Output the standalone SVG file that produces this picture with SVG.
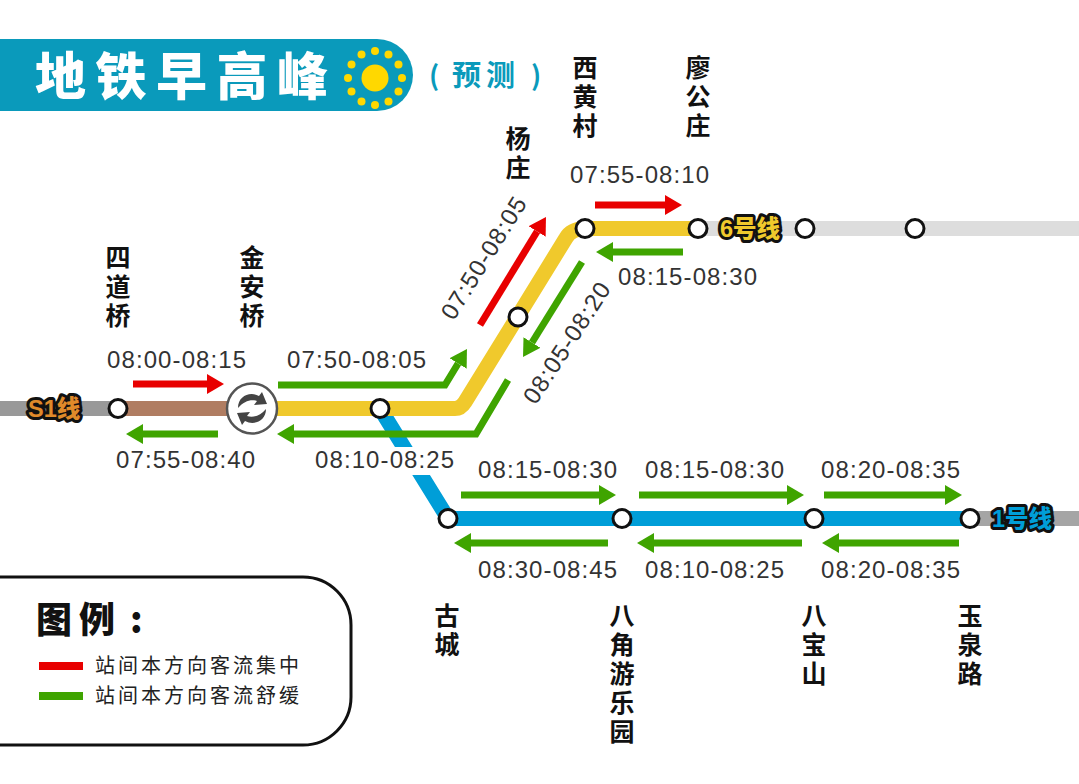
<svg xmlns="http://www.w3.org/2000/svg" width="1079" height="784" viewBox="0 0 1079 784">
<style>
.cjk{font-family:"Noto Sans CJK SC","Liberation Sans",sans-serif}
.st{font-family:"Noto Sans CJK SC","Liberation Sans",sans-serif;font-size:25px;font-weight:700;fill:#111;text-anchor:middle}
.t{font-family:"Liberation Sans",Arial,sans-serif;font-size:24px;fill:#333;letter-spacing:1.1px}
.ln{font-family:"Liberation Sans","Noto Sans CJK SC",sans-serif;font-size:23.500px;font-weight:900;stroke:#111;stroke-width:6px;stroke-linejoin:round;paint-order:stroke}
.rail{fill:none;stroke-width:15;stroke-linejoin:round}
.r{fill:none;stroke:#e80000;stroke-width:7}
.g{fill:none;stroke:#3fa400;stroke-width:7}
.ra{marker-end:url(#ah-r)}
.ga{marker-end:url(#ah-g)}
.s{fill:#fff;stroke:#111;stroke-width:3}
.leg{font-family:"Noto Sans CJK SC",sans-serif;font-size:20px;fill:#222;letter-spacing:3px}
.dot{fill:#ffd800}
</style>
<defs>
<marker id="ah-r" markerUnits="userSpaceOnUse" markerWidth="17" markerHeight="20" refX="0" refY="10" orient="auto"><path d="M0 0L17 10L0 20z" fill="#e80000"/></marker>
<marker id="ah-g" markerUnits="userSpaceOnUse" markerWidth="17" markerHeight="20" refX="0" refY="10" orient="auto"><path d="M0 0L17 10L0 20z" fill="#3fa400"/></marker>
</defs>
<rect width="1079" height="784" fill="#fff"/>
<g id="header">
<path d="M0 39H377A36 36 0 0 1 377 111H0z" fill="#0a9abb"/>
<text class="cjk" x="35" y="95" font-size="51" font-weight="900" fill="#fff" letter-spacing="9.5">地铁早高峰</text>
<circle class="dot" cx="375" cy="78" r="13.5"/>
<g id="sun-rays">
<circle class="dot" cx="402" cy="78" r="4"/><circle class="dot" cx="398.500" cy="91.500" r="4"/><circle class="dot" cx="388.500" cy="101.500" r="4"/><circle class="dot" cx="375" cy="105" r="4"/><circle class="dot" cx="361.500" cy="101.500" r="4"/><circle class="dot" cx="351.500" cy="91.500" r="4"/><circle class="dot" cx="348" cy="78" r="4"/><circle class="dot" cx="351.500" cy="64.500" r="4"/><circle class="dot" cx="361.500" cy="54.500" r="4"/><circle class="dot" cx="375" cy="51" r="4"/><circle class="dot" cx="388.500" cy="54.500" r="4"/><circle class="dot" cx="398.500" cy="64.500" r="4"/>
</g>
<text class="cjk" x="429" y="86" font-size="27" font-weight="700" fill="#0a9abb">(</text>
<text class="cjk" x="452" y="86" font-size="29" font-weight="700" fill="#0a9abb" letter-spacing="5">预测</text>
<text class="cjk" x="531" y="86" font-size="27" font-weight="700" fill="#0a9abb">)</text>
</g>
<g id="connectors">
<path class="rail" stroke="#999" d="M0 408.500H118"/>
<path class="rail" stroke="#b07d62" d="M118 408.500H245"/>
<path class="rail" stroke="#ddd" d="M698 228.500H1079"/>
<path class="rail" stroke="#a5a5a5" d="M970 518.500H1079"/>
<path class="rail" stroke="#009ed8" d="M380 408.500L448 518.500H970"/>
<path class="rail" stroke="#f0c92c" d="M245 408.500H455Q461 408.500 465 402L566 238Q571 229 585 228.500H698"/>
<path class="r ra" d="M133 384H207"/>
<path class="g ga" d="M218 434H143"/>
<path class="g ga" d="M278 385H445L458.100 363.500"/>
<path class="g ga" d="M508 380L476 434H294"/>
<path class="r ra" d="M480 325L537.100 231.500"/>
<path class="g ga" d="M582 262L532 342.500"/>
<path class="r ra" d="M595 205H665"/>
<path class="g ga" d="M683 252H613"/>
<path class="g ga" d="M461 495H599"/>
<path class="g ga" d="M639 495H787"/>
<path class="g ga" d="M824 495H945"/>
<path class="g ga" d="M608 543H471"/>
<path class="g ga" d="M802 543H654"/>
<path class="g ga" d="M959 543H839"/>
</g>
<rect x="314" y="447" width="141" height="28" fill="#fff"/>
<g id="line-labels">
<text class="ln" x="28" y="417" fill="#e08a2a">S1线</text>
<text class="ln" x="720" y="237" fill="#f0c92c">6号线</text>
<text class="ln" x="992" y="527" fill="#009ed8">1号线</text>
</g>
<g id="times">
<text class="t" x="107" y="368">08:00-08:15</text>
<text class="t" x="287" y="368">07:50-08:05</text>
<text class="t" x="116" y="468">07:55-08:40</text>
<text class="t" x="315" y="468">08:10-08:25</text>
<text class="t" x="570" y="183">07:55-08:10</text>
<text class="t" x="618" y="285">08:15-08:30</text>
<text class="t" x="478" y="478">08:15-08:30</text>
<text class="t" x="645" y="478">08:15-08:30</text>
<text class="t" x="821" y="478">08:20-08:35</text>
<text class="t" x="478" y="578">08:30-08:45</text>
<text class="t" x="645" y="578">08:10-08:25</text>
<text class="t" x="821" y="578">08:20-08:35</text>
<text class="t" text-anchor="middle" transform="translate(491 262) rotate(-58)">07:50-08:05</text>
<text class="t" text-anchor="middle" transform="translate(574 347) rotate(-57)">08:05-08:20</text>
</g>
<g id="st-sidaoqiao"><circle class="s" cx="118" cy="408.500" r="9"/><text class="st" x="118 118 118" y="267 296 325">四道桥</text></g>
<g id="st-jinanqiao">
<circle cx="252" cy="408.500" r="25" fill="#fff" stroke="#555" stroke-width="2.500"/>
<path id="swap-top" d="M238 408C238 396 250 391 259 396L262 392L267 404L254 405L257 401C251 399 244 401 238 408z" fill="#444"/>
<path d="M266 409C266 421 254 426 245 421L242 425L237 413L250 412L247 416C253 418 260 416 266 409z" fill="#444"/>
<text class="st" x="252 252 252" y="267 296 325">金安桥</text></g>
<g id="st-junction"><circle class="s" cx="380" cy="408.500" r="9"/></g>
<g id="st-yangzhuang"><circle class="s" cx="518" cy="317" r="9"/><text class="st" x="518 518" y="148 177">杨庄</text></g>
<g id="st-xihuangcun"><circle class="s" cx="585" cy="228.500" r="9"/><text class="st" x="585 585 585" y="77 106 135">西黄村</text></g>
<g id="st-liaogongzhuang"><circle class="s" cx="698" cy="228.500" r="9"/><text class="st" x="698 698 698" y="77 106 135">廖公庄</text></g>
<g id="st-6a"><circle class="s" cx="805" cy="228.500" r="9"/></g>
<g id="st-6b"><circle class="s" cx="915" cy="228.500" r="9"/></g>
<g id="st-gucheng"><circle class="s" cx="448" cy="518.500" r="9"/><text class="st" x="447 447" y="625 654">古城</text></g>
<g id="st-bajiao"><circle class="s" cx="622" cy="518.500" r="9"/><text class="st" x="622 622 622 622 622" y="625 654 683 712 741">八角游乐园</text></g>
<g id="st-babaoshan"><circle class="s" cx="814" cy="518.500" r="9"/><text class="st" x="814 814 814" y="625 654 683">八宝山</text></g>
<g id="st-yuquanlu"><circle class="s" cx="970" cy="518.500" r="9"/><text class="st" x="970 970 970" y="625 654 683">玉泉路</text></g>
<g id="legend">
<path d="M0 577H303A48 48 0 0 1 351 625V697A48 48 0 0 1 303 745H0" fill="#fff" stroke="#111" stroke-width="3"/>
<text class="cjk" x="36" y="633" font-size="36" font-weight="900" fill="#111" letter-spacing="7">图例</text>
<text class="cjk" x="130" y="633" font-size="36" font-weight="900" fill="#111">:</text>
<rect x="39" y="662" width="44" height="8" fill="#e80000"/>
<rect x="39" y="692" width="44" height="8" fill="#3fa400"/>
<text class="leg" x="95" y="673">站间本方向客流集中</text>
<text class="leg" x="95" y="703">站间本方向客流舒缓</text>
</g>
</svg>
